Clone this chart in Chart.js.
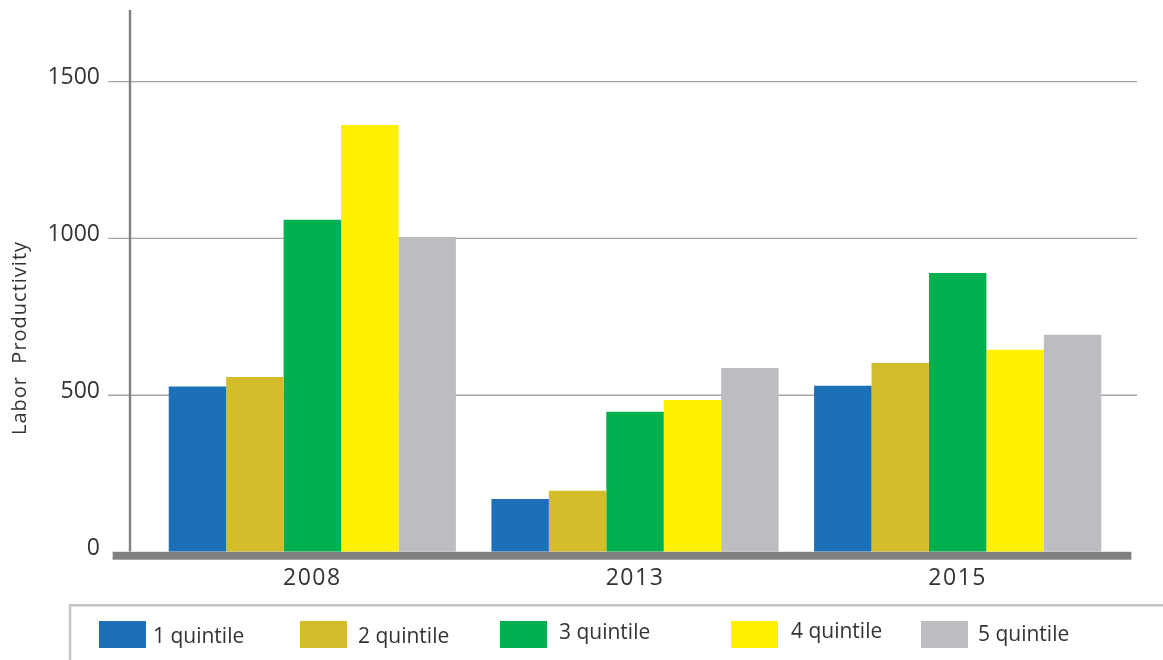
<!DOCTYPE html>
<html><head><meta charset="utf-8">
<script src="https://cdn.jsdelivr.net/npm/chart.js@4"></script>
<style>html,body{margin:0;padding:0;background:#fff}#wrap{width:1163px;height:660px}</style>
</head><body><div id="wrap"><canvas id="c" width="1163" height="660"></canvas></div>
<script>
const categories = ['2008', '2013', '2015'];
const seriesLabels = ['1 quintile', '2 quintile', '3 quintile', '4 quintile', '5 quintile'];
const q1 = [528, 169, 530];
const q2 = [558, 195, 603];
const q3 = [1060, 447, 890];
const q4 = [1362, 485, 645];
const q5 = [1005, 587, 693];
const yTicks = [0, 500, 1000, 1500];
const yTickLabels = ['0', '500', '1000', '1500'];
const axisTitle = 'Labor  Productivity';
const colors = ['#1b70b8', '#d3bd2b', '#00b04f', '#fff100', '#bcbdc1'];
const seriesData = [q1, q2, q3, q4, q5];

const FONT = "'Open Sans', 'Liberation Sans', sans-serif";

const decor = {
  id: 'decor',
  beforeDatasetsDraw(chart) {
    const ctx = chart.ctx, ys = chart.scales.y;
    ctx.save();
    ctx.strokeStyle = '#a6a6a6';
    ctx.lineWidth = 1.3;
    yTicks.forEach(v => {
      if (v === 0) return;
      const py = ys.getPixelForValue(v);
      ctx.beginPath(); ctx.moveTo(108, py); ctx.lineTo(1137, py); ctx.stroke();
    });
    ctx.strokeStyle = '#808080';
    ctx.lineWidth = 2.4;
    ctx.beginPath(); ctx.moveTo(130, 10); ctx.lineTo(130, ys.getPixelForValue(0)); ctx.stroke();
    ctx.restore();
  },
  afterDatasetsDraw(chart) {
    const ctx = chart.ctx, ys = chart.scales.y;
    const z = ys.getPixelForValue(0);
    ctx.save();
    ctx.fillStyle = '#d0d0d0';
    ctx.fillRect(112, z - 0.5, 1131 - 112 + 1, 8.5);
    ctx.fillStyle = '#808080';
    ctx.fillRect(113, z, 1131 - 113, 7.5);
    ctx.restore();
    try { ctx.letterSpacing = '1.5px'; } catch (e) {}
  },
  afterDraw(chart) {
    const ctx = chart.ctx;
    try { ctx.letterSpacing = '0px'; } catch (e) {}
    ctx.save();
    ctx.strokeStyle = '#c4c4c6';
    ctx.lineWidth = 2.5;
    ctx.beginPath(); ctx.moveTo(70, 660); ctx.lineTo(70, 605.3); ctx.lineTo(1163, 605.3); ctx.stroke();
    const sx = [99, 300, 500, 731, 921];
    const tx = [153, 358, 559, 791, 978];
    const ty = [637, 637, 633, 632, 635];
    ctx.font = '21px ' + FONT;
    ctx.textAlign = 'left';
    ctx.textBaseline = 'middle';
    chart.data.datasets.forEach((ds, i) => {
      ctx.fillStyle = ds.backgroundColor;
      ctx.fillRect(sx[i], 621, 47, 27);
      ctx.fillStyle = '#333333';
      ctx.fillText(ds.label, tx[i], ty[i]);
    });
    ctx.translate(20, 338);
    ctx.rotate(-Math.PI / 2);
    ctx.textAlign = 'center';
    ctx.font = '20px ' + FONT;
    try { ctx.letterSpacing = '1px'; } catch (e) {}
    ctx.fillStyle = '#333333';
    ctx.fillText(axisTitle, 0, 0);
    ctx.restore();
    try { ctx.letterSpacing = '0px'; } catch (e) {}
  }
};

new Chart(document.getElementById('c'), {
  type: 'bar',
  data: {
    labels: categories,
    datasets: seriesLabels.map((l, i) => ({
      label: l, data: seriesData[i], backgroundColor: colors[i], borderWidth: 0,
      categoryPercentage: 0.89, barPercentage: 1
    }))
  },
  options: {
    responsive: false, animation: false,
    layout: { padding: { top: 19, left: 0, right: 44, bottom: 0 } },
    plugins: { legend: { display: false }, tooltip: { enabled: false } },
    scales: {
      x: {
        grid: { display: false, drawTicks: false }, border: { display: false },
        ticks: { color: '#333333', font: { family: FONT, size: 23 }, padding: 13, z: 1 },
        afterFit(s) { s.height = 108; s.paddingLeft = 0; s.paddingRight = 0; }
      },
      y: {
        min: 0, max: 1700,
        grid: { display: false, drawTicks: true, tickLength: 51 }, border: { display: false },
        ticks: {
          color: '#333333', font: { family: FONT, size: 23 }, padding: 0, labelOffset: -4,
          callback: (v) => yTickLabels[yTicks.indexOf(v)]
        },
        afterBuildTicks(s) { s.ticks = yTicks.map(v => ({ value: v })); },
        afterFit(s) { s.width = 151; s.paddingTop = 0; s.paddingBottom = 0; }
      }
    }
  },
  plugins: [decor]
});
</script></body></html>
